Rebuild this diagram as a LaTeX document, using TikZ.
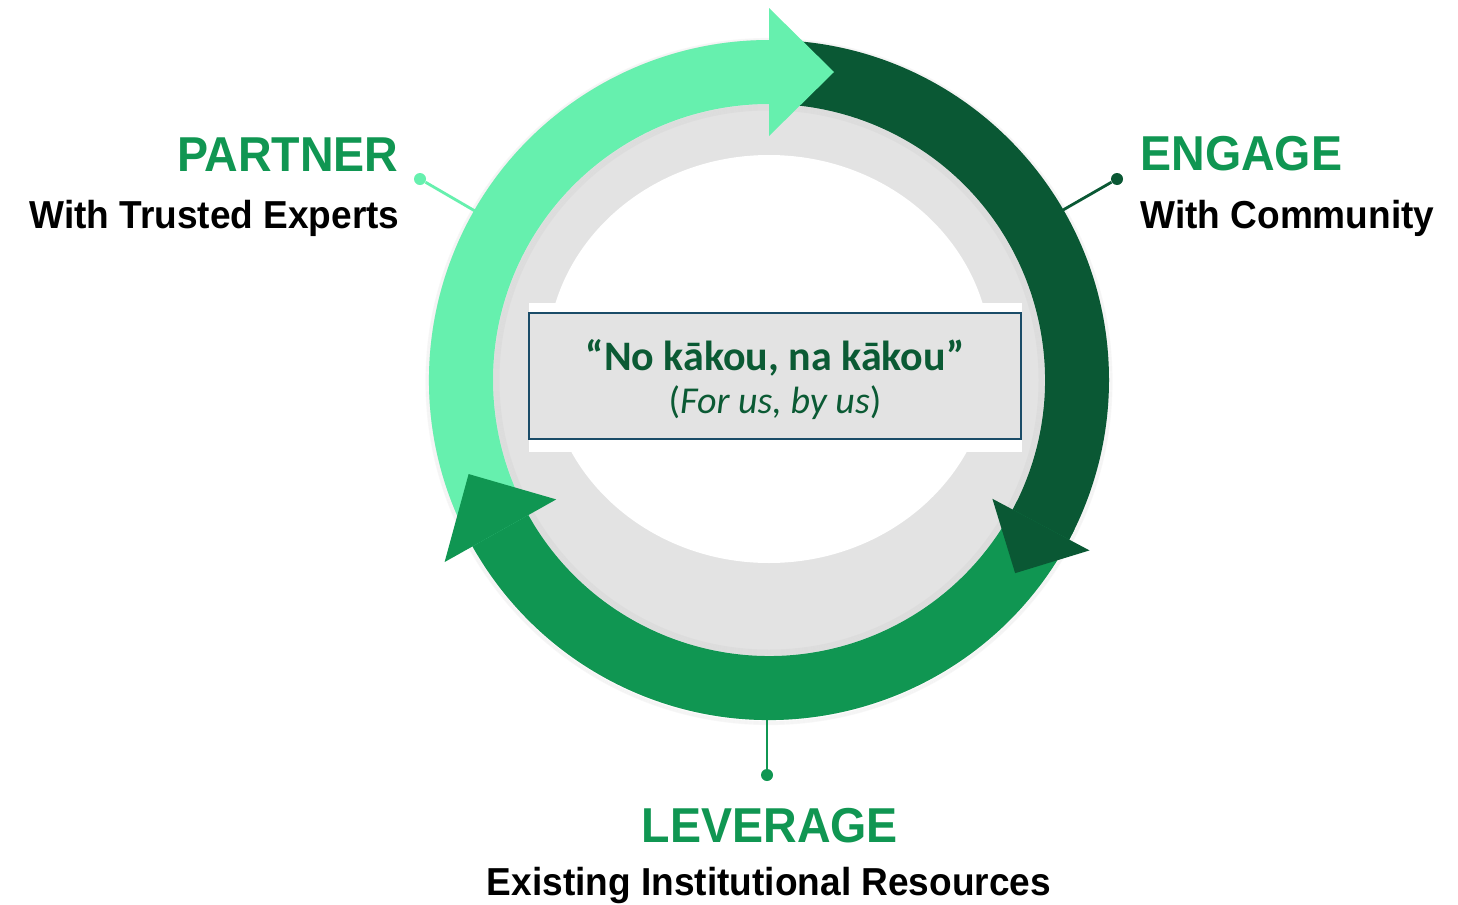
\documentclass[tikz,border=0pt]{standalone}
\usepackage{fontspec}
\setmainfont{Liberation Sans}
\newfontfamily\labfont[FakeStretch=0.95]{Liberation Sans}
\newfontfamily\boxfont{Carlito}
\usetikzlibrary{calc}
\definecolor{lightg}{HTML}{66F0AE}
\definecolor{darkg}{HTML}{0A5834}
\definecolor{midg}{HTML}{109652}
\definecolor{ringgray}{HTML}{E3E3E3}
\definecolor{boxline}{HTML}{1A4C68}
\definecolor{boxtext}{HTML}{0B5A34}
\begin{document}
\begin{tikzpicture}[x=0.5pt,y=-0.5pt,
  head/.style={inner sep=0, text=midg, font=\labfont\bfseries\fontsize{24.5}{28}\selectfont},
  sub/.style={inner sep=0, text=black, font=\labfont\bfseries\fontsize{19.5}{23}\selectfont},
  leaddot/.style={circle, inner sep=0, minimum size=6pt},
  lead/.style={line width=1.4pt},
  mottobox/.style={draw=boxline, line width=1.3pt, fill=ringgray, minimum width=246pt, minimum height=63pt, inner sep=0}]

\fill[white] (0,0) rectangle (1458,905);
\coordinate (c) at (769,380);

% soft outer shadow
\foreach \i in {1,...,4} \draw[black, opacity=0.03, line width=0.6pt] ($(c)+(0,1.5)$) circle[radius=339+\i];
% gray disk
\fill[ringgray] (c) circle[radius=340];
% soft inner shadow
\foreach \i in {1,...,6} \draw[black, opacity=0.025, line width=0.5pt] (c) circle[radius=276-\i];
% white inner area
\fill[white] (769,359) ellipse[x radius=222, y radius=204];
\fill[white] (529,303) rectangle (1022,452);
\node[mottobox] (box) at (775,376) {};

% ring bodies
\fill[lightg] ($(c)+(149:340)$) arc[start angle=149, end angle=270, radius=340]
  -- ($(c)+(270:276)$) arc[start angle=270, end angle=149, radius=276] -- cycle;
\fill[midg] ($(c)+(26:340)$) arc[start angle=26, end angle=150.7, radius=340]
  -- ($(c)+(150.7:276)$) arc[start angle=150.7, end angle=26, radius=276] -- cycle;
\fill[darkg] ($(c)+(271:340)$) arc[start angle=271, end angle=388, radius=340]
  -- ($(c)+(28:276)$) arc[start angle=388, end angle=271, radius=276] -- cycle;

% arrowheads
\fill[lightg] ($(c)+(270:372)$) -- ($(c)+(270:308)+(0:65)$) -- ($(c)+(270:244)$) -- cycle;
\fill[darkg] ($(c)+(28:363)$) -- ($(c)+(28:308)+(118:55)$) -- ($(c)+(28:253)$) -- cycle;
\fill[midg] ($(c)+(150.7:372)$) -- ($(c)+(150.7:308)+(240.7:65)$) -- ($(c)+(150.7:244)$) -- cycle;

% leader lines
\coordinate (pP) at (475,211);
\node[leaddot, fill=lightg] (dP) at (420,179) {};
\draw[lead, lightg] (pP) -- (dP);
\coordinate (pE) at (1063,210);
\node[leaddot, fill=darkg] (dE) at (1117,179) {};
\draw[lead, darkg] (pE) -- (dE);
\coordinate (pL) at (767,718);
\node[leaddot, fill=midg] (dL) at (767,775) {};
\draw[lead, midg] (pL) -- (dL);

% labels
\node[head, anchor=base east] (partner) at (399,171) {PARTNER};
\node[sub, anchor=base east] (partnersub) at (400,228) {With Trusted Experts};
\node[head, anchor=base west] (engage) at (1140,170) {ENGAGE};
\node[sub, anchor=base west] (engagesub) at (1140,228) {With Community};
\node[head, anchor=base] (leverage) at (770,842) {LEVERAGE};
\node[sub, anchor=base] (levsub) at (769,895) {Existing Institutional Resources};

% motto
\node[inner sep=0, anchor=base, text=boxtext, font=\boxfont\bfseries\fontsize{21}{25}\selectfont] (motto) at (775,370) {“No kākou, na kākou”};
\node[inner sep=0, anchor=base, text=boxtext, font=\boxfont\fontsize{19}{22}\selectfont] (trans) at (775,413) {(\textit{For us, by us})};
\end{tikzpicture}
\end{document}
